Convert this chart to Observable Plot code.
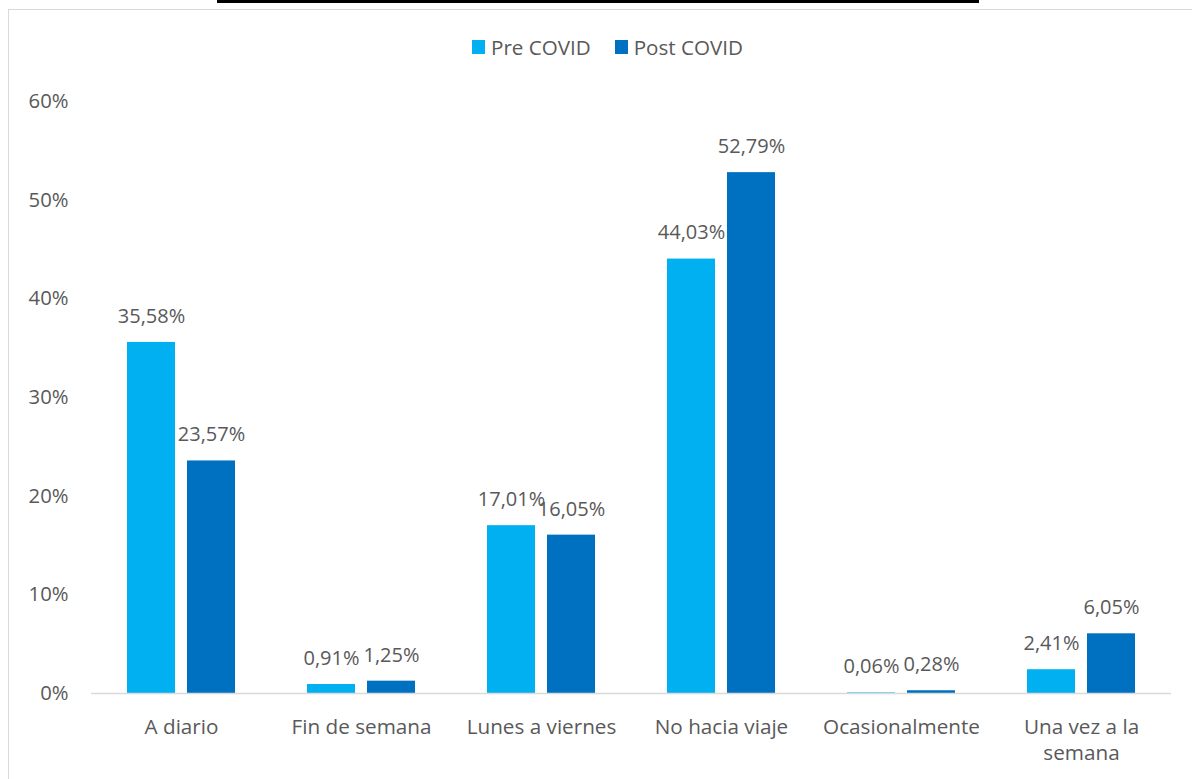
<!DOCTYPE html>
<html>
<head>
<meta charset="utf-8">
<script src="https://cdn.jsdelivr.net/npm/d3@7"></script>
<script src="https://cdn.jsdelivr.net/npm/@observablehq/plot@0.6"></script>
<style>
  html, body { margin: 0; padding: 0; background: #fff; width: 1192px; height: 779px; overflow: hidden; }
  body { position: relative; font-family: "Open Sans", sans-serif; color: #595959; }
  #topline { position: absolute; left: 217px; top: 0px; width: 762px; height: 3px; background: #000; }
  #frame { position: absolute; left: 8px; top: 9px; width: 1200px; height: 800px; border: 1.5px solid #d9d9d9; box-sizing: border-box; }
  #legend { position: absolute; left: 472px; top: 35px; height: 24px; display: flex; align-items: center; font-size: 20.6px; color: #595959; white-space: nowrap; }
  .item { display: flex; align-items: center; margin-right: 24px; }
  .sw { width: 13px; height: 14px; margin-right: 6px; }
  #chart { position: absolute; left: 0; top: 70px; }
</style>
</head>
<body>
<div id="topline"></div>
<div id="frame"></div>
<div id="legend"></div>
<div id="chart"></div>
<script>
const categories = ["A diario", "Fin de semana", "Lunes a viernes", "No hacia viaje", "Ocasionalmente", "Una vez a la semana"];
const series = ["Pre COVID", "Post COVID"];
const preCovid = [35.58, 0.91, 17.01, 44.03, 0.06, 2.41];
const postCovid = [23.57, 1.25, 16.05, 52.79, 0.28, 6.05];
const colors = ["#00B0F0", "#0070C0"];
const yTicks = [0, 10, 20, 30, 40, 50, 60];

const data = [];
categories.forEach((c, i) => {
  data.push({category: c, series: series[0], value: preCovid[i]});
  data.push({category: c, series: series[1], value: postCovid[i]});
});

const fmt = v => d3.format(".2f")(v).replace(".", ",") + "%";

const legend = document.getElementById("legend");
series.forEach((s, i) => {
  const it = document.createElement("div");
  it.className = "item";
  it.innerHTML = `<div class="sw" style="background:${colors[i]}"></div><span>${s}</span>`;
  legend.appendChild(it);
});

const chart = Plot.plot({
  width: 1192,
  height: 709,
  marginLeft: 90,
  marginRight: 20,
  marginTop: 31,
  marginBottom: 86,
  style: {fontFamily: "Open Sans, sans-serif", fontSize: "20.3px", color: "#595959", background: "transparent", overflow: "visible"},
  fx: {domain: categories, padding: 0, label: null, axis: null},
  x: {domain: series, paddingInner: 0.2, paddingOuter: 0.6, axis: null},
  y: {domain: [0, 60], ticks: yTicks, tickFormat: d => d + "%", tickSize: 0, tickPadding: 23, label: null},
  color: {domain: series, range: colors},
  marks: [
    Plot.barY(data, {fx: "category", x: "series", y: "value", fill: "series"}),
    Plot.ruleY([0], {stroke: "#d9d9d9", strokeWidth: 1.5}),
    Plot.text(data, {fx: "category", x: "series", y: "value", text: d => fmt(d.value), dy: -26, fill: "#595959", fontSize: 20}),
    Plot.axisFx({anchor: "bottom", tickSize: 0, tickPadding: 23, fontSize: 20.7, lineHeight: 1.22, label: null,
      tickFormat: d => d === "Una vez a la semana" ? "Una vez a la\nsemana" : d})
  ]
});
document.getElementById("chart").appendChild(chart);
</script>
</body>
</html>
